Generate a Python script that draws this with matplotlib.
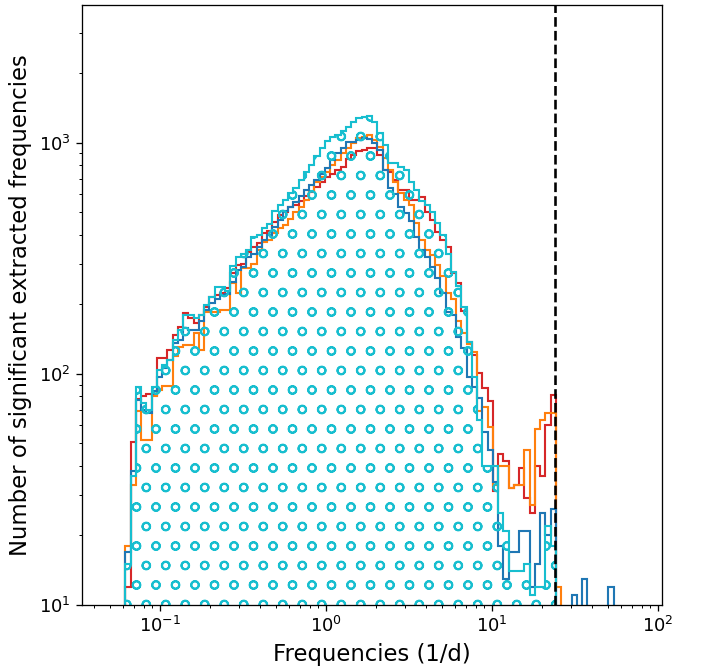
import numpy as np
import matplotlib
matplotlib.use("Agg")
import matplotlib.pyplot as plt

# log-spaced frequency bins (1/d)
f_min = 0.0618
f_max = 58.1
n_bins = 94
nyquist = 24.0

# counts per bin
red_counts = [12, 51, 78, 80, 82, 81, 117, 117, 127, 148,
              160, 184, 175, 166, 180, 195, 216, 220, 224, 235,
              274, 296, 300, 338, 356, 370, 407, 415, 456, 488,
              500, 530, 540, 560, 590, 615, 645, 680, 712, 735,
              760, 790, 850, 890, 920, 930, 950, 950, 890, 760,
              750, 692, 627, 627, 567, 567, 585, 500, 464, 410,
              380, 356, 274, 248, 188, 137, 121, 101, 87, 76,
              31, 45, 42, 32, 33, 39, 29, 25, 40, 36,
              60, 81, 0, 0, 0, 0, 0, 0, 0, 0,
              0, 0, 0, 0]
orange_counts = [18, 33, 69, 52, 52, 80, 85, 89, 89, 119,
                 131, 133, 133, 150, 127, 186, 186, 186, 189, 190,
                 248, 224, 288, 288, 300, 344, 374, 380, 407, 430,
                 440, 470, 500, 530, 567, 620, 680, 715, 751, 800,
                 843, 905, 951, 1000, 1050, 1064, 1084, 1030, 960, 860,
                 760, 680, 608, 567, 540, 450, 380, 344, 327, 296,
                 265, 225, 210, 170, 150, 135, 125, 69, 72, 59,
                 33, 40, 40, 32, 33, 33, 47, 27, 58, 63,
                 68, 68, 12, 0, 0, 0, 0, 0, 0, 0,
                 0, 0, 0, 0]
blue_counts = [17, 38, 77, 70, 68, 84, 97, 106, 115, 136,
               140, 158, 155, 155, 170, 189, 203, 210, 220, 222,
               251, 282, 290, 322, 330, 356, 380, 400, 434, 464,
               505, 530, 557, 590, 627, 660, 692, 730, 775, 840,
               905, 951, 1010, 1010, 1030, 1050, 1040, 1000, 930, 760,
               640, 600, 530, 497, 460, 393, 344, 322, 290, 260,
               224, 185, 180, 145, 130, 97, 88, 79, 56, 47,
               34, 18, 13, 17, 17, 21, 21, 12, 15, 25,
               20, 26, 0, 0, 0, 11, 0, 13, 0, 0,
               0, 0, 12, 0]
cyan_counts = [15, 36, 88, 75, 70, 88, 104, 109, 115, 140,
               155, 180, 180, 175, 180, 199, 216, 239, 239, 228,
               292, 322, 330, 344, 393, 400, 427, 445, 505, 539,
               567, 608, 638, 692, 751, 803, 880, 950, 1014, 1060,
               1084, 1120, 1176, 1236, 1278, 1290, 1312, 1236, 1104, 980,
               817, 817, 787, 760, 680, 627, 560, 539, 500, 450,
               400, 330, 277, 240, 195, 138, 97, 63, 40, 40,
               40, 25, 21, 14, 14, 14, 15, 11, 12, 12,
               22, 18, 0, 0, 0, 0, 0, 0, 0, 0,
               0, 0, 0, 0]

bins = np.logspace(np.log10(f_min), np.log10(f_max), n_bins + 1)
centers = np.sqrt(bins[:-1] * bins[1:])

fig = plt.figure(figsize=(6.0, 668 / 117), dpi=117)
ax = fig.add_axes([0.1168, 0.0943, 0.8262, 0.8982])

plt.rcParams['hatch.linewidth'] = 1.2

ax.hist(centers, bins=bins, weights=red_counts, histtype='step',
        color='tab:red', linewidth=1.3)
ax.hist(centers, bins=bins, weights=orange_counts, histtype='step',
        color='tab:orange', linewidth=1.3)
ax.hist(centers, bins=bins, weights=blue_counts, histtype='step',
        color='tab:blue', linewidth=1.3)
ax.hist(centers, bins=bins, weights=cyan_counts, histtype='step',
        color='tab:cyan', linewidth=1.3, hatch='o')

ax.axvline(nyquist, color='k', linestyle='--', linewidth=1.6)

ax.set_xscale('log')
ax.set_yscale('log')
ax.set_xlim(0.0339, 105.7)
ax.set_ylim(10, 3950)

ax.set_xlabel('Frequencies (1/d)', fontsize=14)
ax.set_ylabel('Number of significant extracted frequencies', fontsize=14)
ax.tick_params(labelsize=11)

fig.savefig('out.png', dpi=117)
